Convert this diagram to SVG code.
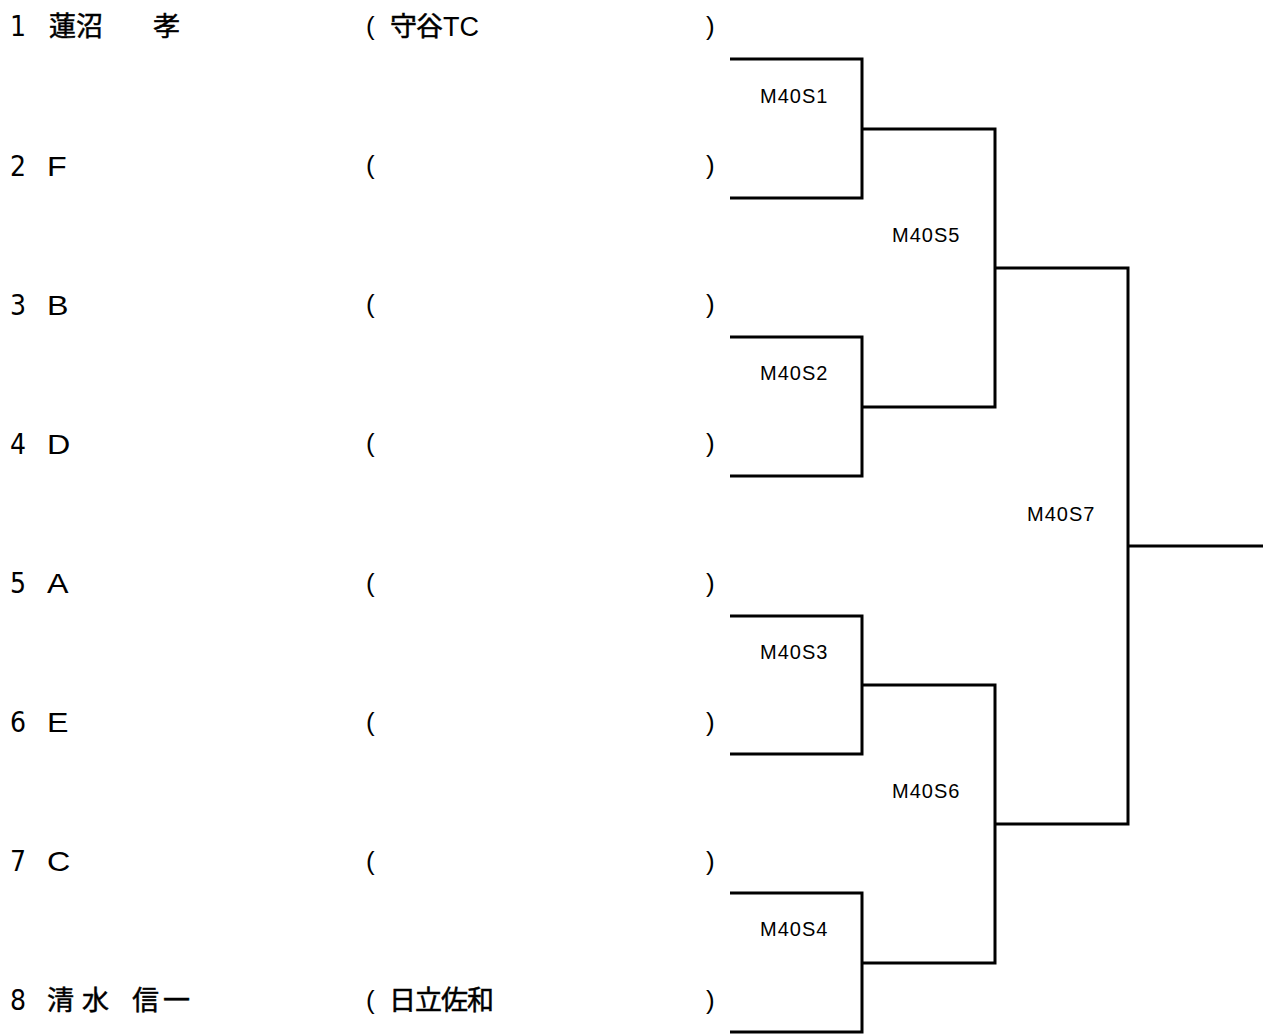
<svg xmlns="http://www.w3.org/2000/svg" width="1263" height="1035" viewBox="0 0 1263 1035">
<style>
.num{font-family:"Liberation Sans Narrow","DejaVu Sans Condensed","Liberation Sans",sans-serif;font-size:28px;fill:#000}
.nm{font-family:"Noto Sans CJK JP","Liberation Sans",sans-serif;font-size:27px;fill:#000;stroke:#000;stroke-width:0.5}
.la{font-family:"Liberation Sans",Arial,sans-serif;font-size:28px;fill:#000}
.tc{font-family:"Liberation Sans",Arial,sans-serif;font-size:27px;fill:#000}
.pa{font-family:"Liberation Sans",Arial,sans-serif;font-size:26px;fill:#000}
.lb{font-family:"Liberation Sans",Arial,sans-serif;font-size:20px;letter-spacing:1px;fill:#000}
.ln{fill:none;stroke:#000;stroke-width:3}
</style>
<rect width="1263" height="1035" fill="#fff"/>
<g id="p1"><text class="num" x="10" y="36">1</text><text class="nm" x="49" y="36">蓮沼</text><text class="nm" x="153" y="36">孝</text><text class="pa" x="366" y="35">(</text><text class="nm" x="390" y="36" letter-spacing="-1">守谷</text><text class="tc" x="443" y="36">TC</text><text class="pa" x="706" y="35">)</text></g>
<g id="p2"><text class="num" x="10" y="176">2</text><text class="la" x="47" y="176" textLength="19.7" lengthAdjust="spacingAndGlyphs">F</text><text class="pa" x="366" y="174">(</text><text class="pa" x="706" y="174">)</text></g>
<g id="p3"><text class="num" x="10" y="315">3</text><text class="la" x="47" y="315" textLength="21.5" lengthAdjust="spacingAndGlyphs">B</text><text class="pa" x="366" y="313">(</text><text class="pa" x="706" y="313">)</text></g>
<g id="p4"><text class="num" x="10" y="454">4</text><text class="la" x="47" y="454" textLength="23.3" lengthAdjust="spacingAndGlyphs">D</text><text class="pa" x="366" y="452">(</text><text class="pa" x="706" y="452">)</text></g>
<g id="p5"><text class="num" x="10" y="593">5</text><text class="la" x="47" y="593" textLength="21.5" lengthAdjust="spacingAndGlyphs">A</text><text class="pa" x="366" y="592">(</text><text class="pa" x="706" y="592">)</text></g>
<g id="p6"><text class="num" x="10" y="732">6</text><text class="la" x="47" y="732" textLength="21.5" lengthAdjust="spacingAndGlyphs">E</text><text class="pa" x="366" y="731">(</text><text class="pa" x="706" y="731">)</text></g>
<g id="p7"><text class="num" x="10" y="871">7</text><text class="la" x="47" y="871" textLength="23.3" lengthAdjust="spacingAndGlyphs">C</text><text class="pa" x="366" y="870">(</text><text class="pa" x="706" y="870">)</text></g>
<g id="p8"><text class="num" x="10" y="1010">8</text><text class="nm" x="47" y="1010" letter-spacing="8">清水</text><text class="nm" x="132" y="1010" letter-spacing="4">信一</text><text class="pa" x="366" y="1009">(</text><text class="nm" x="389" y="1010" letter-spacing="-1">日立佐和</text><text class="pa" x="706" y="1009">)</text></g>
<g id="connectors">
<polyline class="ln" points="730,59 862,59 862,198 730,198"/>
<polyline class="ln" points="730,337 862,337 862,476 730,476"/>
<polyline class="ln" points="730,616 862,616 862,754 730,754"/>
<polyline class="ln" points="730,893 862,893 862,1032 730,1032"/>
<polyline class="ln" points="862,129 995,129 995,407 862,407"/>
<polyline class="ln" points="862,685 995,685 995,963 862,963"/>
<polyline class="ln" points="995,268 1128,268 1128,824 995,824"/>
<line class="ln" x1="1128" y1="546" x2="1263" y2="546"/>
</g>
<g id="labels">
<text class="lb" x="760" y="103">M40S1</text>
<text class="lb" x="760" y="380">M40S2</text>
<text class="lb" x="760" y="659">M40S3</text>
<text class="lb" x="760" y="936">M40S4</text>
<text class="lb" x="892" y="242">M40S5</text>
<text class="lb" x="892" y="798">M40S6</text>
<text class="lb" x="1027" y="521">M40S7</text>
</g>
</svg>
